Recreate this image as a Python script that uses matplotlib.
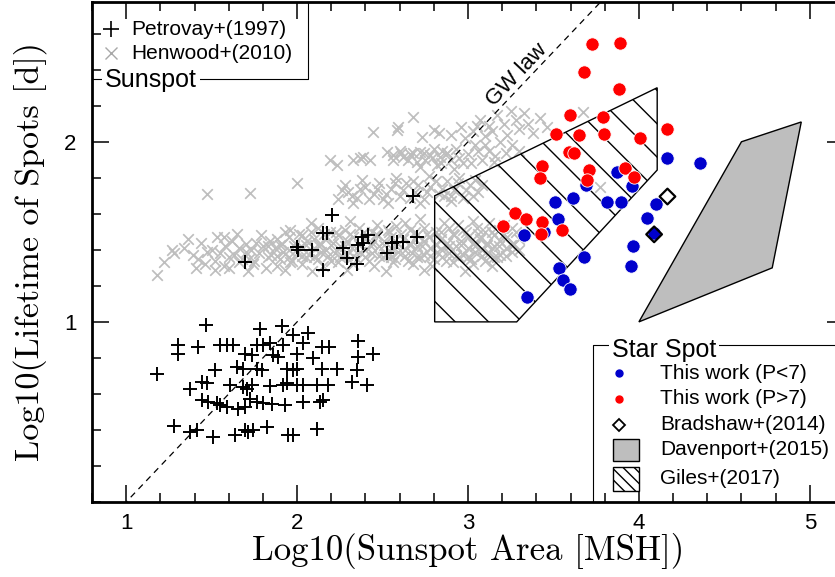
import numpy as np
import matplotlib.pyplot as plt
from matplotlib.patches import Polygon, Rectangle
from matplotlib.ticker import FixedLocator, MultipleLocator

plt.rcParams['font.family'] = ['Liberation Sans', 'DejaVu Sans']
plt.rcParams['hatch.linewidth'] = 1.0

# --- Sunspots: Petrovay+(1997), log area vs log lifetime
petrovay = [
    (2.203, 1.593), (2.154, 1.491), (2.174, 1.491), (1.998, 1.417), (2.008, 1.398),
    (2.086, 1.398), (2.271, 1.408), (2.378, 1.472), (2.417, 1.482), (2.388, 1.436),
    (2.358, 1.426), (2.291, 1.352), (2.349, 1.324), (2.154, 1.287), (1.696, 1.333),
    (2.525, 1.380), (2.554, 1.436), (2.583, 1.444), (2.622, 1.444), (2.700, 1.472),
    (2.680, 1.698),
    (1.468, 0.982), (1.784, 0.963), (1.911, 0.976), (1.978, 0.926), (2.066, 0.936),
    (2.358, 0.893), (1.306, 0.871), (1.306, 0.824), (1.423, 0.861), (1.550, 0.871),
    (1.589, 0.871), (1.627, 0.871), (1.764, 0.871), (1.803, 0.871), (1.842, 0.882),
    (1.920, 0.871), (2.037, 0.880), (2.144, 0.861), (2.189, 0.861), (2.446, 0.824),
    (1.696, 0.824), (1.735, 0.815), (1.861, 0.815), (1.891, 0.806), (1.998, 0.824),
    (2.095, 0.797), (2.358, 0.806), (1.180, 0.713), (1.520, 0.732), (1.647, 0.750),
    (1.686, 0.741), (1.764, 0.741), (1.794, 0.732), (1.940, 0.741), (1.978, 0.732),
    (1.998, 0.741), (2.144, 0.741), (2.232, 0.741), (2.349, 0.732), (1.374, 0.630),
    (1.443, 0.667), (1.472, 0.658), (1.608, 0.648), (1.686, 0.636), (1.706, 0.630),
    (1.735, 0.648), (1.842, 0.643), (1.920, 0.648), (1.940, 0.658), (1.998, 0.648),
    (2.037, 0.648), (2.115, 0.648), (2.183, 0.648), (2.320, 0.667), (2.408, 0.648),
    (1.443, 0.565), (1.481, 0.556), (1.530, 0.547), (1.550, 0.537), (1.589, 0.528),
    (1.657, 0.519), (1.696, 0.528), (1.725, 0.574), (1.764, 0.556), (1.803, 0.547),
    (1.852, 0.543), (1.930, 0.537), (2.037, 0.556), (2.135, 0.556), (2.154, 0.565),
    (1.277, 0.421), (1.374, 0.389), (1.413, 0.398), (1.507, 0.361), (1.637, 0.371),
    (1.696, 0.398), (1.715, 0.389), (1.744, 0.398), (1.823, 0.417), (1.949, 0.371),
    (1.978, 0.371), (2.115, 0.408),
]

# --- Sunspots: Henwood+(2010)
henwood_low = [
    (1.18, 1.26), (1.27, 1.40), (1.22, 1.33), (1.36, 1.46), (1.41, 1.30), (1.53, 1.47),
    (1.60, 1.30), (1.65, 1.49), (1.72, 1.35), (1.82, 1.30),
    (2.08, 1.55), (2.31, 1.56), (2.47, 1.54), (2.63, 1.55), (2.72, 1.57), (2.86, 1.55),
    (2.94, 1.54), (3.03, 1.56), (3.12, 1.55), (3.21, 1.54),
    (1.96, 1.51), (2.12, 1.52), (2.19, 1.50), (2.28, 1.51), (2.36, 1.52), (2.44, 1.50),
    (2.53, 1.51), (2.58, 1.53), (2.66, 1.51), (2.74, 1.52), (2.81, 1.50), (2.89, 1.52),
    (2.97, 1.51), (3.05, 1.52), (3.10, 1.50), (3.18, 1.51), (3.26, 1.52),
    (1.93, 1.50), (2.01, 1.49), (2.08, 1.50), (2.16, 1.49), (2.23, 1.50), (2.31, 1.49),
    (2.39, 1.50), (2.46, 1.49), (2.54, 1.50), (2.61, 1.49), (2.69, 1.50), (2.76, 1.49),
    (2.84, 1.50), (2.91, 1.49), (2.99, 1.50), (3.06, 1.49), (3.14, 1.50), (3.21, 1.49),
    (3.28, 1.50),
    (1.57, 1.47), (1.79, 1.48), (1.88, 1.46), (1.95, 1.47), (2.03, 1.48), (2.10, 1.46),
    (2.17, 1.47), (2.24, 1.48), (2.33, 1.47), (2.40, 1.46), (2.47, 1.48), (2.55, 1.47),
    (2.62, 1.46), (2.70, 1.48), (2.77, 1.47), (2.84, 1.46), (2.92, 1.48), (3.00, 1.47),
    (3.07, 1.46), (3.15, 1.48), (3.23, 1.47), (3.30, 1.46),
    (1.44, 1.44), (1.62, 1.45), (1.70, 1.43), (1.76, 1.44), (1.84, 1.45), (1.91, 1.43),
    (1.99, 1.44), (2.06, 1.45), (2.14, 1.43), (2.21, 1.44), (2.29, 1.45), (2.37, 1.43),
    (2.44, 1.44), (2.51, 1.45), (2.59, 1.43), (2.66, 1.44), (2.74, 1.45), (2.81, 1.43),
    (2.88, 1.44), (2.96, 1.45), (3.03, 1.43), (3.11, 1.44), (3.19, 1.45), (3.27, 1.43),
    (1.83, 1.42), (1.90, 1.425), (1.98, 1.42), (2.05, 1.425), (2.13, 1.42), (2.20, 1.425),
    (2.28, 1.42), (2.36, 1.425), (2.43, 1.42), (2.51, 1.425), (2.58, 1.42), (2.66, 1.425),
    (2.73, 1.42), (2.81, 1.425), (2.89, 1.42), (2.96, 1.425), (3.04, 1.42), (3.11, 1.425),
    (3.18, 1.42), (3.25, 1.425),
    (1.34, 1.41), (1.50, 1.40), (1.58, 1.42), (1.66, 1.41), (1.73, 1.40), (1.80, 1.42),
    (1.87, 1.41), (1.95, 1.40), (2.02, 1.42), (2.10, 1.41), (2.17, 1.40), (2.25, 1.42),
    (2.32, 1.41), (2.40, 1.40), (2.48, 1.42), (2.55, 1.41), (2.63, 1.40), (2.70, 1.42),
    (2.78, 1.41), (2.85, 1.40), (2.93, 1.42), (3.00, 1.41), (3.08, 1.40), (3.15, 1.42),
    (3.22, 1.41), (3.30, 1.40),
    (1.28, 1.38), (1.39, 1.37), (1.47, 1.39), (1.55, 1.38), (1.63, 1.37), (1.70, 1.39),
    (1.78, 1.38), (1.85, 1.37), (1.92, 1.39), (2.00, 1.38), (2.07, 1.37), (2.14, 1.39),
    (2.22, 1.38), (2.29, 1.37), (2.37, 1.39), (2.44, 1.38), (2.52, 1.37), (2.59, 1.39),
    (2.67, 1.38), (2.74, 1.37), (2.82, 1.39), (2.89, 1.38), (2.97, 1.37), (3.04, 1.39),
    (3.12, 1.38), (3.19, 1.37), (3.26, 1.39),
    (1.88, 1.365), (1.95, 1.36), (2.03, 1.365), (2.10, 1.36), (2.18, 1.365), (2.25, 1.36),
    (2.33, 1.365), (2.40, 1.36), (2.48, 1.365), (2.55, 1.36), (2.63, 1.365), (2.70, 1.36),
    (2.78, 1.365), (2.85, 1.36), (2.93, 1.365), (3.00, 1.36), (3.08, 1.365), (3.15, 1.36),
    (3.22, 1.365),
    (1.42, 1.35), (1.52, 1.34), (1.60, 1.36), (1.68, 1.35), (1.75, 1.34), (1.83, 1.36),
    (1.90, 1.35), (1.97, 1.34), (2.05, 1.36), (2.12, 1.35), (2.20, 1.34), (2.27, 1.36),
    (2.35, 1.35), (2.42, 1.34), (2.50, 1.36), (2.57, 1.35), (2.65, 1.34), (2.72, 1.36),
    (2.80, 1.35), (2.87, 1.34), (2.95, 1.36), (3.02, 1.35), (3.10, 1.34), (3.17, 1.36),
    (1.46, 1.32), (1.57, 1.31), (1.66, 1.33), (1.74, 1.32), (1.88, 1.31), (1.96, 1.33),
    (2.03, 1.32), (2.15, 1.31), (2.24, 1.33), (2.33, 1.32), (2.45, 1.31), (2.56, 1.33),
    (2.68, 1.32), (2.79, 1.31), (2.91, 1.33), (3.03, 1.32), (3.14, 1.31),
    (1.52, 1.29), (1.71, 1.28), (1.93, 1.29), (2.09, 1.28), (2.29, 1.29), (2.52, 1.28),
    (2.74, 1.29), (2.98, 1.28),
]
henwood_mid = [
    (1.47, 1.71), (1.725, 1.713), (1.998, 1.769),
    (2.24, 1.68), (2.30, 1.72), (2.35, 1.69), (2.40, 1.75), (2.45, 1.71), (2.50, 1.68),
    (2.55, 1.74), (2.60, 1.70), (2.64, 1.77), (2.69, 1.72), (2.74, 1.68), (2.78, 1.75),
    (2.83, 1.71), (2.88, 1.78), (2.92, 1.73), (2.97, 1.69), (3.01, 1.76), (3.06, 1.72),
    (2.28, 1.76), (2.38, 1.79), (2.48, 1.77), (2.58, 1.80), (2.68, 1.78), (2.77, 1.81),
    (2.86, 1.70), (2.95, 1.80), (3.04, 1.79), (2.33, 1.66), (2.53, 1.66), (2.72, 1.66),
    (2.90, 1.67), (3.77, 1.75),
    (2.26, 1.73), (2.32, 1.70), (2.37, 1.74), (2.42, 1.68), (2.47, 1.74), (2.52, 1.71),
    (2.57, 1.77), (2.62, 1.73), (2.66, 1.69), (2.71, 1.76), (2.76, 1.72), (2.81, 1.78),
    (2.85, 1.74), (2.90, 1.70), (2.94, 1.77), (2.99, 1.73), (3.03, 1.70), (3.08, 1.76),
]
henwood_high = [
    (2.193, 1.898), (2.232, 1.871), (2.329, 1.898), (2.368, 1.908), (2.388, 1.917),
    (2.427, 1.898), (2.525, 1.944), (2.563, 1.926), (2.622, 1.917), (2.680, 1.935),
    (2.719, 1.944), (2.778, 1.926), (2.836, 1.917), (2.875, 1.935),
    (2.60, 1.95), (2.65, 1.90), (2.75, 1.90), (2.80, 1.96), (2.85, 1.95), (2.90, 1.90),
    (2.93, 1.96), (2.97, 1.88), (3.00, 1.93), (3.04, 1.98), (3.08, 1.90), (3.12, 1.95),
    (3.16, 1.92), (3.22, 1.94), (3.30, 1.95), (2.72, 1.86), (2.82, 1.87), (2.92, 1.85),
    (2.56, 1.90), (2.61, 1.94), (2.66, 1.93), (2.70, 1.89), (2.74, 1.94), (2.79, 1.91),
    (2.84, 1.88), (2.88, 1.94), (2.95, 1.91), (3.02, 1.88), (3.06, 1.95), (3.10, 1.98),
    (3.15, 1.89), (3.19, 2.00), (3.26, 1.98),
    (2.446, 2.056), (2.583, 2.065), (2.59, 2.08), (2.68, 2.14), (2.729, 2.028),
    (2.80, 2.065), (2.83, 2.05), (2.90, 2.04), (2.96, 2.08), (3.03, 2.06), (3.07, 2.12),
    (3.12, 2.09), (3.17, 2.15), (3.21, 2.10), (3.25, 2.17), (3.30, 2.07), (3.35, 2.10),
    (3.38, 2.05), (3.10, 2.03), (3.674, 2.167),
    (2.98, 2.02), (3.05, 2.09), (3.14, 2.06), (3.23, 2.04), (3.28, 2.12), (3.33, 2.16),
    (3.42, 2.13), (3.46, 2.08),
]

# --- Star spots, this work
red_x = [3.727, 3.891, 3.680, 3.881, 3.596, 3.788, 3.515, 3.651, 3.797, 4.164,
         4.006, 3.591, 3.622, 3.431, 3.419, 3.709, 3.698, 3.916, 3.973, 3.275,
         3.337, 3.431, 3.203, 3.425, 3.551]
red_y = [2.543, 2.547, 2.387, 2.291, 2.148, 2.139, 2.041, 2.037, 2.044, 2.072,
         2.021, 1.941, 1.936, 1.867, 1.800, 1.843, 1.787, 1.852, 1.802, 1.602,
         1.569, 1.556, 1.532, 1.487, 1.509]
blue_x = [4.164, 4.360, 3.871, 3.959, 3.688, 3.616, 3.509, 3.811, 3.898, 4.099,
          4.048, 4.088, 3.528, 3.447, 3.327, 3.965, 3.680, 3.956, 3.535, 3.553,
          3.594, 3.347]
blue_y = [1.911, 1.880, 1.833, 1.754, 1.759, 1.689, 1.667, 1.665, 1.665, 1.652,
          1.578, 1.491, 1.569, 1.500, 1.482, 1.422, 1.361, 1.312, 1.300, 1.232,
          1.180, 1.137]

# Bradshaw+(2014)
brad_x = [4.167, 4.089]
brad_y = [1.696, 1.486]

# Davenport+(2015) and Giles+(2017) regions
davenport_xy = [(4.00, 1.00), (4.60, 2.00), (4.95, 2.11), (4.78, 1.30)]
giles_xy = [(2.805, 1.70), (4.107, 2.30), (4.107, 1.843), (3.285, 1.00), (2.805, 1.00)]

# Gnevyshev-Waldmeier law: log T = log A - 1
gw_slope = 1.0
gw_intercept = -1.0

x_ticks = [1, 2, 3, 4, 5]
y_ticks = [1, 2]

fig = plt.figure(figsize=(8.35, 5.77), dpi=100)
ax = fig.add_axes([92 / 835, 75 / 577, 752 / 835, 500 / 577])

hw = np.array(henwood_low + henwood_mid + henwood_high)
ax.scatter(hw[:, 0], hw[:, 1], marker='x', s=58, c='#BEBEBE', linewidths=1.25, zorder=1)

pv = np.array(petrovay)
ax.scatter(pv[:, 0], pv[:, 1], marker='+', s=90, c='k', linewidths=1.4, zorder=2)

ax.add_patch(Polygon(giles_xy, closed=True, fill=False, hatch='\\', edgecolor='k',
                     lw=1.0, zorder=3))
ax.add_patch(Polygon(davenport_xy, closed=True, facecolor='#BEBEBE', edgecolor='k',
                     lw=1.0, zorder=3))

gx = np.array([0.8, 5.2])
ax.plot(gx, gw_slope * gx + gw_intercept, ls=(0, (5, 4)), color='k', lw=0.9, zorder=3)
ax.text(3.33, 2.33, 'GW law', rotation=45, transform_rotates_text=True,
        rotation_mode='anchor', ha='center', va='bottom', fontsize=16, zorder=4)

ax.scatter(blue_x, blue_y, s=92, c='#0000CC', edgecolors='white', linewidths=0.6, zorder=5)
ax.scatter(red_x, red_y, s=92, c='#FF0000', edgecolors='white', linewidths=0.6, zorder=6)
ax.scatter(brad_x, brad_y, s=64, marker='D', facecolors='none', edgecolors='k',
           linewidths=1.6, zorder=7)

# Sunspot legend box (upper left)
ta = ax.transAxes
ax.plot([0, 0.2876, 0.2876], [0.8454, 0.8454, 1.0], color='k', lw=0.8, transform=ta,
        zorder=8, clip_on=False)
ax.text(0.0173, 0.8294, 'Sunspot', fontsize=18, transform=ta, va='baseline', ha='left',
        bbox=dict(facecolor='white', edgecolor='none', pad=2), zorder=9)
ax.plot([0.0249], [0.9454], marker='+', ms=11, mew=1.2, color='k', transform=ta, zorder=9)
ax.plot([0.0249], [0.8974], marker='x', ms=8, mew=1.0, color='#A8A8A8', transform=ta, zorder=9)
ax.text(0.0528, 0.9454, 'Petrovay+(1997)', fontsize=15, transform=ta, va='center', zorder=9)
ax.text(0.0528, 0.8974, 'Henwood+(2010)', fontsize=15, transform=ta, va='center', zorder=9)

# Star spot legend box (lower right)
ax.plot([0.6667, 0.6667, 1.0], [0.0, 0.314, 0.314], color='k', lw=0.8, transform=ta,
        zorder=8, clip_on=False)
ax.text(0.6911, 0.2906, 'Star Spot', fontsize=18, transform=ta, va='baseline', ha='left',
        bbox=dict(facecolor='white', edgecolor='none', pad=2), zorder=9)
ax.plot([0.7012], [0.2574], 'o', ms=5, color='#0000CC', transform=ta, zorder=9)
ax.plot([0.7012], [0.2060], 'o', ms=5, color='#FF0000', transform=ta, zorder=9)
ax.plot([0.7012], [0.1540], 'D', ms=6.5, mfc='none', mec='k', mew=1.3, transform=ta, zorder=9)
ax.add_patch(Rectangle((0.6932, 0.082), 0.0345, 0.0448, transform=ta, facecolor='#BEBEBE',
                       edgecolor='k', lw=1.0, zorder=9))
ax.add_patch(Rectangle((0.6932, 0.022), 0.0345, 0.0474, transform=ta, facecolor='white',
                       hatch='\\\\\\', edgecolor='k', lw=1.0, zorder=9))
legend_labels = ['This work (P<7)', 'This work (P>7)', 'Bradshaw+(2014)',
                 'Davenport+(2015)', 'Giles+(2017)']
for lab, fy in zip(legend_labels, [0.2574, 0.2060, 0.1540, 0.1046, 0.0460]):
    ax.text(0.7553, fy, lab, fontsize=15, transform=ta, va='center', zorder=9)

# axes
ax.set_xlim(0.8, 5.2)
ax.set_ylim(0, 2.776)
ax.xaxis.set_major_locator(FixedLocator(x_ticks))
ax.yaxis.set_major_locator(FixedLocator(y_ticks))
ax.xaxis.set_minor_locator(MultipleLocator(0.2))
ax.yaxis.set_minor_locator(MultipleLocator(0.2))
ax.tick_params(which='both', direction='in', top=True, right=True)
ax.tick_params(which='major', length=12, width=1.1, labelsize=16)
ax.tick_params(which='minor', length=6.5, width=1.1)
ax.tick_params(axis='x', which='major', pad=8)
ax.tick_params(axis='y', which='major', pad=11)
for sp in ax.spines.values():
    sp.set_linewidth(2.0)

ax.set_xlabel('Log10(Sunspot Area [MSH])', fontfamily='cmr10', fontsize=25)
ax.xaxis.set_label_coords(0.5, -0.098)
ax.xaxis.label.set_va('center')
ax.set_ylabel('Log10(Lifetime of Spots [d])', fontfamily='cmr10', fontsize=24.5)
ax.yaxis.set_label_coords(-0.0824, 0.5)
ax.yaxis.label.set_va('center')

fig.savefig('out.png', dpi=100)
